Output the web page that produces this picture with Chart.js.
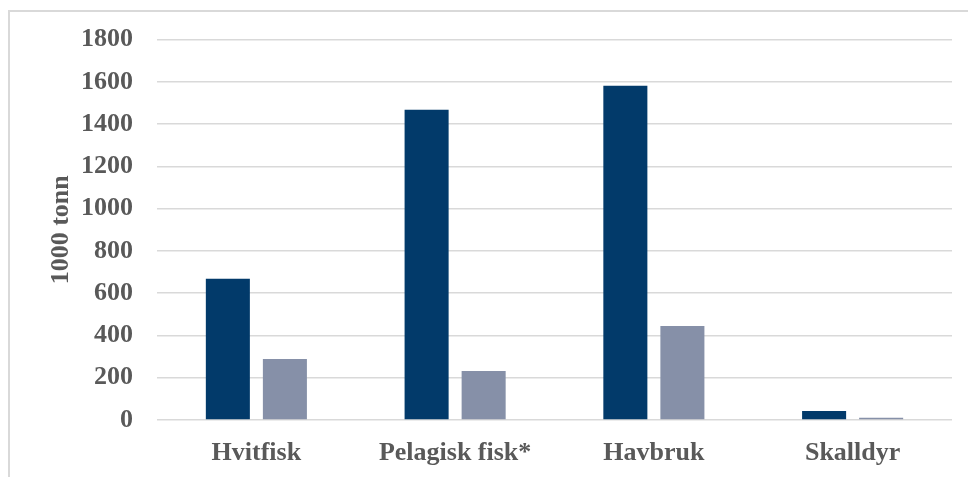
<!DOCTYPE html>
<html>
<head>
  <title>1000 tonn</title>
  <style>
    body {
      margin: 0;
      padding: 0;
      background-color: #ffffff;
      overflow: hidden;
    }

    .frame {
      position: absolute;
      left: 8px;
      top: 10px;
      width: 980px;
      height: 500px;
      border-left: 2px solid #d9d9d9;
      border-top: 2px solid #d9d9d9;
    }

    .chart-box {
      position: absolute;
      left: 0;
      top: 0;
      width: 968px;
      height: 477px;
    }
  </style>
  <script src="https://cdn.jsdelivr.net/npm/chart.js"></script>
</head>
<body>
<div class="frame"></div>
<div class="chart-box">
  <canvas id="catchChart" width="968" height="477"></canvas>
</div>

<script>
  // Categories and values (1000 tonn)
  const categories = ['Hvitfisk', 'Pelagisk fisk*', 'Havbruk', 'Skalldyr'];
  const seriesA = [668, 1468, 1582, 43];
  const seriesB = [289, 232, 445, 11];
  const yTicks = [0, 200, 400, 600, 800, 1000, 1200, 1400, 1600, 1800];

  const textColor = '#595959';
  const fontFamily = '"Liberation Serif", "Times New Roman", serif';

  const ctx = document.getElementById('catchChart').getContext('2d');

  const catchChart = new Chart(ctx, {
    type: 'bar',
    data: {
      labels: categories,
      datasets: [
        {
          label: 'Serie 1',
          data: seriesA,
          backgroundColor: '#023a6a',
          borderWidth: 0
        },
        {
          label: 'Serie 2',
          data: seriesB,
          backgroundColor: '#8690a8',
          borderWidth: 0
        }
      ]
    },
    options: {
      responsive: false,
      animation: false,
      categoryPercentage: 0.574,
      barPercentage: 0.772,
      layout: {
        padding: { left: 46, right: 16, top: 29, bottom: 0 }
      },
      plugins: {
        legend: { display: false },
        tooltip: { enabled: false }
      },
      scales: {
        x: {
          grid: { display: false },
          border: { display: false },
          ticks: {
            color: textColor,
            padding: 10,
            font: { family: fontFamily, size: 26, weight: 'bold' }
          },
          afterFit: function (scale) {
            scale.height = 57;
          }
        },
        y: {
          min: 0,
          max: 1800,
          afterBuildTicks: function (scale) {
            scale.ticks = yTicks.map(v => ({ value: v }));
          },
          grid: {
            color: '#d9d9d9',
            lineWidth: 1.5,
            drawTicks: false
          },
          border: { display: false },
          ticks: {
            color: textColor,
            padding: 24,
            callback: function (value) {
              return String(value);
            },
            font: { family: fontFamily, size: 26, weight: 'bold' }
          },
          title: {
            display: true,
            text: '1000 tonn',
            color: textColor,
            padding: 0,
            font: { family: fontFamily, size: 26, weight: 'bold' }
          },
          afterFit: function (scale) {
            scale.width = 111;
          }
        }
      }
    }
  });
</script>

</body>
</html>
